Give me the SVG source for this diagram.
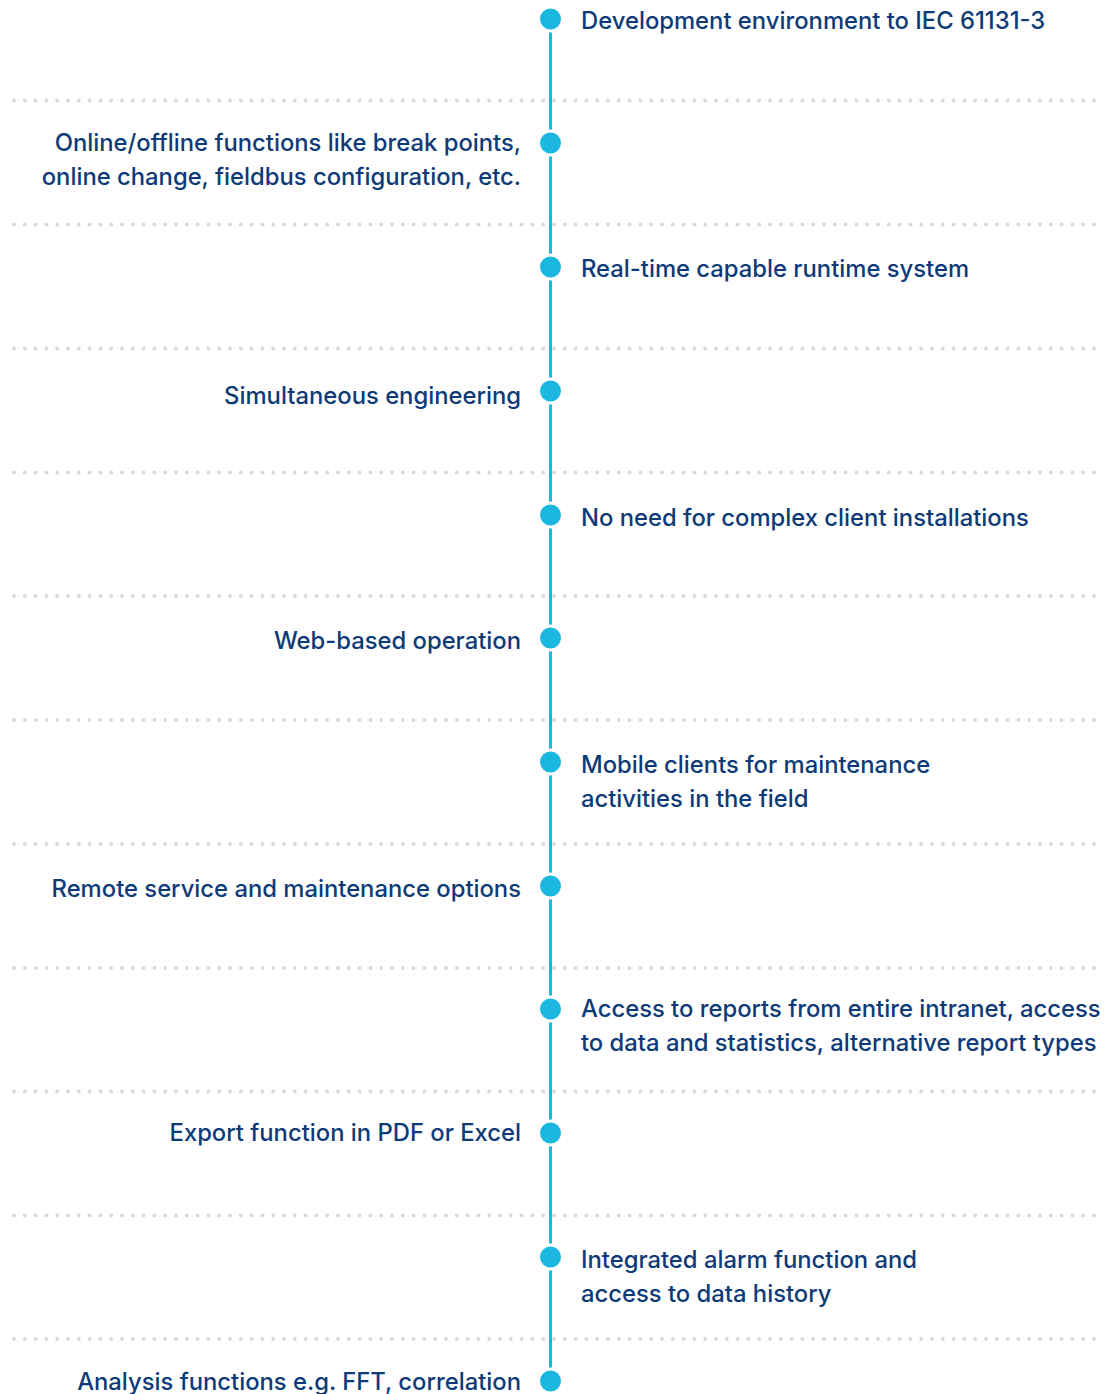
<svg xmlns="http://www.w3.org/2000/svg" width="1105" height="1394" viewBox="0 0 1105 1394">
<style>
.t{font-family:Inter,"Liberation Sans",Arial,sans-serif;font-size:23.8px;fill:#0e3b78;font-weight:500}
.r{text-anchor:start}
.l{text-anchor:end}
.dot{stroke:#d9d9d9;stroke-width:3.8;stroke-linecap:round;stroke-dasharray:0 10.8;fill:none}
.node{fill:#1ab8e0;stroke:#ffffff;stroke-width:3}
.spine{stroke:#1ab8e0;stroke-width:3;fill:none}
</style>
<rect width="1105" height="1394" fill="#ffffff"/>
<g id="connectors">
<line class="spine" x1="550.5" y1="19" x2="550.5" y2="1381"/>
</g>
<g id="separators">
<line class="dot" x1="14" y1="100.5" x2="1095" y2="100.5"/>
<line class="dot" x1="14" y1="224.5" x2="1095" y2="224.5"/>
<line class="dot" x1="14" y1="348.5" x2="1095" y2="348.5"/>
<line class="dot" x1="14" y1="472.5" x2="1095" y2="472.5"/>
<line class="dot" x1="14" y1="596" x2="1095" y2="596"/>
<line class="dot" x1="14" y1="720" x2="1095" y2="720"/>
<line class="dot" x1="14" y1="844" x2="1095" y2="844"/>
<line class="dot" x1="14" y1="968" x2="1095" y2="968"/>
<line class="dot" x1="14" y1="1091.5" x2="1095" y2="1091.5"/>
<line class="dot" x1="14" y1="1215.5" x2="1095" y2="1215.5"/>
<line class="dot" x1="14" y1="1339" x2="1095" y2="1339"/>
</g>
<g id="n1"><circle class="node" cx="550.5" cy="19" r="12"/><text class="t r" x="581" y="29">Development environment to IEC 61131-3</text></g>
<g id="n2"><circle class="node" cx="550.5" cy="143" r="12"/><text class="t l" x="521" y="151">Online/offline functions like break points,</text><text class="t l" x="521" y="185">online change, fieldbus configuration, etc.</text></g>
<g id="n3"><circle class="node" cx="550.5" cy="267" r="12"/><text class="t r" x="581" y="277">Real-time capable runtime system</text></g>
<g id="n4"><circle class="node" cx="550.5" cy="391" r="12"/><text class="t l" x="521" y="404">Simultaneous engineering</text></g>
<g id="n5"><circle class="node" cx="550.5" cy="515" r="12"/><text class="t r" x="581" y="526">No need for complex client installations</text></g>
<g id="n6"><circle class="node" cx="550.5" cy="638" r="12"/><text class="t l" x="521" y="649">Web-based operation</text></g>
<g id="n7"><circle class="node" cx="550.5" cy="762" r="12"/><text class="t r" x="581" y="773">Mobile clients for maintenance</text><text class="t r" x="581" y="807">activities in the field</text></g>
<g id="n8"><circle class="node" cx="550.5" cy="886" r="12"/><text class="t l" x="521" y="897">Remote service and maintenance options</text></g>
<g id="n9"><circle class="node" cx="550.5" cy="1009" r="12"/><text class="t r" x="581" y="1017">Access to reports from entire intranet, access</text><text class="t r" x="581" y="1051">to data and statistics, alternative report types</text></g>
<g id="n10"><circle class="node" cx="550.5" cy="1133" r="12"/><text class="t l" x="521" y="1141">Export function in PDF or Excel</text></g>
<g id="n11"><circle class="node" cx="550.5" cy="1257" r="12"/><text class="t r" x="581" y="1268">Integrated alarm function and</text><text class="t r" x="581" y="1302">access to data history</text></g>
<g id="n12"><circle class="node" cx="550.5" cy="1381" r="12"/><text class="t l" x="521" y="1390">Analysis functions e.g. FFT, correlation</text></g>
</svg>
